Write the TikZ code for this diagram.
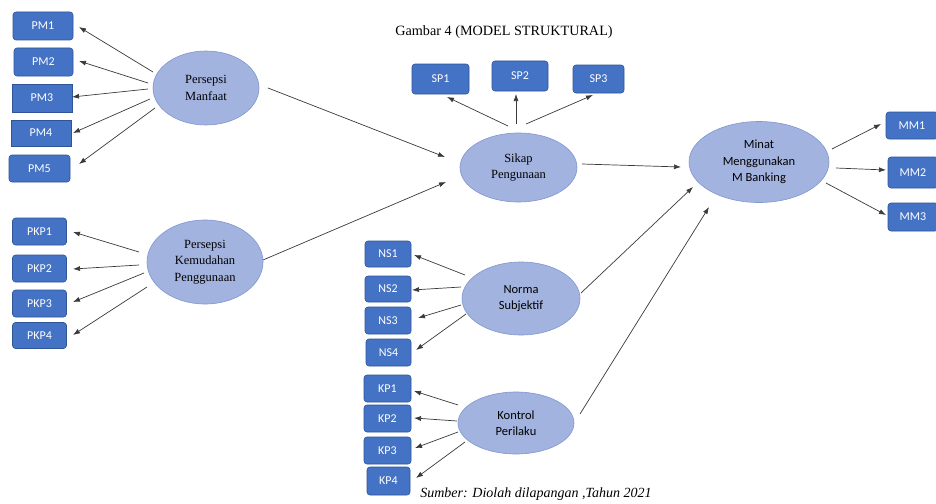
\documentclass[tikz,border=0pt]{standalone}
\usepackage{fontspec}
\setmainfont{Liberation Serif}
\newfontfamily\carl{Carlito}
\usetikzlibrary{arrows.meta,shapes.geometric}
\definecolor{boxblue}{HTML}{4472C4}
\definecolor{boxedge}{HTML}{2F5597}
\definecolor{ellfill}{HTML}{A3B3E0}
\definecolor{elledge}{HTML}{7F96CF}
\definecolor{arrgray}{HTML}{3A3A3A}
\tikzset{
  ind/.style={draw=boxedge, fill=boxblue, line width=0.6pt, rounded corners=3pt, inner sep=0pt,
    text=white, font=\carl\fontsize{12}{14}\selectfont},
  sq/.style={rounded corners=0pt},
  lat/.style={ellipse, draw=elledge, fill=ellfill, line width=0.6pt, inner sep=0pt, align=center},
  serif/.style={font=\fontsize{12.5}{16.5}\selectfont},
  sans/.style={font=\carl\fontsize{12.5}{16.5}\selectfont},
  arr/.style={draw=arrgray, line width=0.7pt, -{Latex[length=7pt,width=5pt]}}
}
\begin{document}
\begin{tikzpicture}[x=1pt,y=-1pt]
\useasboundingbox[fill=white] (0,0) rectangle (936,503);
% indicator boxes
\node[ind, minimum width=60, minimum height=28] (pm1) at (43,26) {PM1};
\node[ind, minimum width=59, minimum height=28] (pm2) at (43.5,62) {PM2};
\node[ind, sq, minimum width=60, minimum height=28] (pm3) at (42,98) {PM3};
\node[ind, sq, minimum width=60, minimum height=26] (pm4) at (41,133) {PM4};
\node[ind, minimum width=61, minimum height=27] (pm5) at (39.5,168.5) {PM5};
\node[ind, minimum width=54, minimum height=27] (pkp1) at (39.5,231.5) {PKP1};
\node[ind, minimum width=54, minimum height=27] (pkp2) at (39.5,268.5) {PKP2};
\node[ind, minimum width=54, minimum height=27] (pkp3) at (39.5,303.5) {PKP3};
\node[ind, minimum width=54, minimum height=26] (pkp4) at (39.5,335.5) {PKP4};
\node[ind, minimum width=57, minimum height=30] (sp1) at (440.5,79) {SP1};
\node[ind, minimum width=56, minimum height=30] (sp2) at (520,76) {SP2};
\node[ind, minimum width=51, minimum height=28] (sp3) at (598.5,79) {SP3};
\node[ind, minimum width=52, minimum height=27] (mm1) at (912,125.5) {MM1};
\node[ind, minimum width=50, minimum height=31] (mm2) at (913,172.5) {MM2};
\node[ind, minimum width=50, minimum height=28] (mm3) at (913,217) {MM3};
\node[ind, minimum width=46, minimum height=26] (ns1) at (388,254) {NS1};
\node[ind, minimum width=46, minimum height=26] (ns2) at (388,289) {NS2};
\node[ind, minimum width=46, minimum height=27] (ns3) at (388,320.5) {NS3};
\node[ind, minimum width=45, minimum height=27] (ns4) at (388.5,352.5) {NS4};
\node[ind, minimum width=47, minimum height=27] (kp1) at (387.5,388.5) {KP1};
\node[ind, minimum width=47, minimum height=27] (kp2) at (387.5,418.5) {KP2};
\node[ind, minimum width=47, minimum height=27] (kp3) at (387.5,450.5) {KP3};
\node[ind, minimum width=43, minimum height=28] (kp4) at (388.5,481) {KP4};
% latent ellipses
\node[lat, serif, minimum width=106, minimum height=74] (pmE) at (206,88) {Persepsi\\Manfaat};
\node[lat, serif, minimum width=116, minimum height=84] (pkpE) at (205,262) {Persepsi\\Kemudahan\\Penggunaan};
\node[lat, serif, minimum width=117, minimum height=69] (spE) at (518.5,167.5) {Sikap\\Pengunaan};
\node[lat, sans, minimum width=140, minimum height=81] (mnE) at (759,162) {Minat\\Menggunakan\\M Banking};
\node[lat, sans, minimum width=118, minimum height=73] (nsE) at (521,298.5) {Norma\\Subjektif};
\node[lat, sans, minimum width=116, minimum height=62] (kpE) at (516,423) {Kontrol\\Perilaku};
% captions
\node[font=\fontsize{14.2}{16}\selectfont] (title) at (504,32) {Gambar 4 (MODEL STRUKTURAL)};
\node[font=\itshape\fontsize{14}{16}\selectfont] (src) at (536,494) {Sumber: Diolah dilapangan ,Tahun 2021};
% PM arrows
\draw[arr] ([shift={(-53,-16)}]pmE.center) -- ([shift={(36,1)}]pm1.center);
\draw[arr] ([shift={(-58,-5)}]pmE.center) -- ([shift={(35.5,-1)}]pm2.center);
\draw[arr] ([shift={(-58,1)}]pmE.center) -- ([shift={(30,-1)}]pm3.center);
\draw[arr] ([shift={(-56,11)}]pmE.center) -- ([shift={(32,0)}]pm4.center);
\draw[arr] ([shift={(-51,20)}]pmE.center) -- ([shift={(39.5,-4.5)}]pm5.center);
% PKP arrows
\draw[arr] ([shift={(-66,-10)}]pkpE.center) -- ([shift={(33.5,0.5)}]pkp1.center);
\draw[arr] ([shift={(-66,3)}]pkpE.center) -- ([shift={(33.5,0.5)}]pkp2.center);
\draw[arr] ([shift={(-61,11)}]pkpE.center) -- ([shift={(33.5,-1.5)}]pkp3.center);
\draw[arr] ([shift={(-58,25)}]pkpE.center) -- ([shift={(33.5,-0.5)}]pkp4.center);
% SP arrows
\draw[arr] ([shift={(-10.5,-41.5)}]spE.center) -- ([shift={(6.5,18)}]sp1.center);
\draw[arr] ([shift={(-2.5,-43.5)}]spE.center) -- ([shift={(-4,18)}]sp2.center);
\draw[arr] ([shift={(7.5,-43.5)}]spE.center) -- ([shift={(-5.5,16)}]sp3.center);
% structural paths
\draw[arr] ([shift={(62,0)}]pmE.center) -- ([shift={(-73.5,-10.5)}]spE.center);
\draw[arr] ([shift={(58,-2)}]pkpE.center) -- ([shift={(-72.5,14.5)}]spE.center);
\draw[arr] ([shift={(63.5,-3.5)}]spE.center) -- ([shift={(-78,5)}]mnE.center);
\draw[arr] ([shift={(60,-5.5)}]nsE.center) -- ([shift={(-66,25)}]mnE.center);
\draw[arr] ([shift={(64,-9)}]kpE.center) -- ([shift={(-50,45)}]mnE.center);
% MM arrows
\draw[arr] ([shift={(73,-13)}]mnE.center) -- ([shift={(-31,-1.5)}]mm1.center);
\draw[arr] ([shift={(77,6)}]mnE.center) -- ([shift={(-27,-2.5)}]mm2.center);
\draw[arr] ([shift={(67,21)}]mnE.center) -- ([shift={(-27,-2)}]mm3.center);
% NS arrows
\draw[arr] ([shift={(-56,-23.5)}]nsE.center) -- ([shift={(26,1)}]ns1.center);
\draw[arr] ([shift={(-60,-11.5)}]nsE.center) -- ([shift={(24,1)}]ns2.center);
\draw[arr] ([shift={(-60,6.5)}]nsE.center) -- ([shift={(30,-2.5)}]ns3.center);
\draw[arr] ([shift={(-55,15.5)}]nsE.center) -- ([shift={(27.5,-2.5)}]ns4.center);
% KP arrows
\draw[arr] ([shift={(-58,-18)}]kpE.center) -- ([shift={(26.5,2.5)}]kp1.center);
\draw[arr] ([shift={(-59,-2)}]kpE.center) -- ([shift={(26.5,-0.5)}]kp2.center);
\draw[arr] ([shift={(-58,9)}]kpE.center) -- ([shift={(27.5,-2.5)}]kp3.center);
\draw[arr] ([shift={(-51,19)}]kpE.center) -- ([shift={(27.5,-3)}]kp4.center);
\end{tikzpicture}
\end{document}
